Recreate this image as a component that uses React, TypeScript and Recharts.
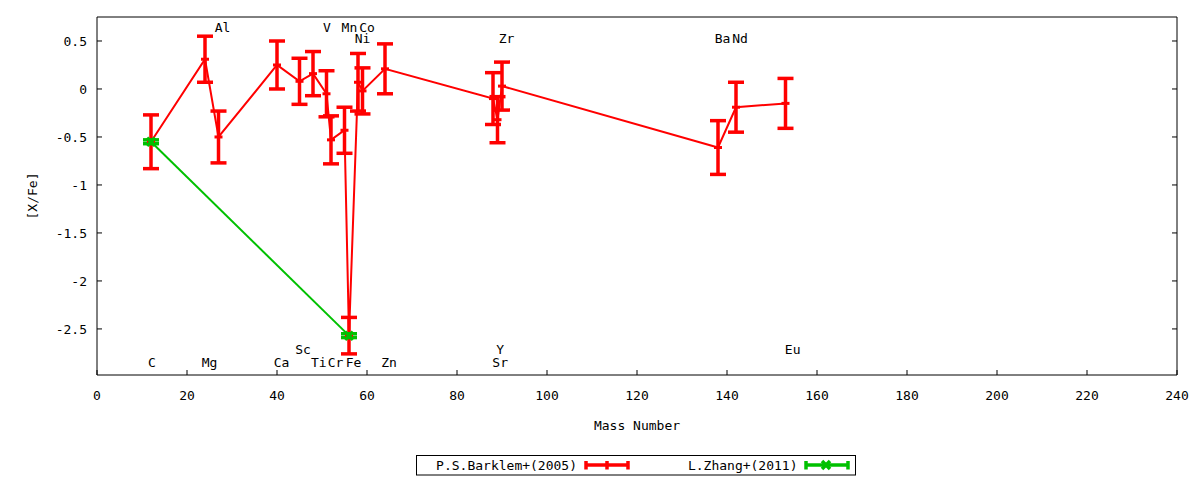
import React from 'react';
import { ComposedChart, Line, Scatter, XAxis, YAxis, ErrorBar } from 'recharts';

// P.S.Barklem+(2005)
const barklemElements = ['C', 'Mg', 'Al', 'Ca', 'Sc', 'Ti', 'V', 'Cr', 'Mn', 'Fe', 'Ni', 'Co', 'Zn', 'Sr', 'Y', 'Zr', 'Ba', 'Nd', 'Eu'];
const barklemMass = [12, 24, 27, 40, 45, 48, 51, 52, 55, 56, 58, 59, 64, 88, 89, 90, 138, 142, 153];
const barklemValues = [-0.55, 0.31, -0.5, 0.25, 0.08, 0.16, -0.05, -0.53, -0.43, -2.57, 0.07, -0.02, 0.21, -0.1, -0.32, 0.03, -0.61, -0.19, -0.15];
const barklemErrors = [0.28, 0.24, 0.27, 0.25, 0.24, 0.23, 0.24, 0.25, 0.24, 0.19, 0.3, 0.24, 0.26, 0.27, 0.24, 0.25, 0.28, 0.26, 0.26];

// L.Zhang+(2011)
const zhangMass = [12, 56];
const zhangValues = [-0.55, -2.57];
const zhangErrors = [0.02, 0.02];

// element annotations (data coordinates)
const labelNames = ['Al', 'V', 'Mn', 'Co', 'Ni', 'Zr', 'Ba', 'Nd', 'C', 'Mg', 'Ca', 'Ti', 'Cr', 'Fe', 'Zn', 'Sr', 'Sc', 'Y', 'Eu'];
const labelX = [27.9, 51.1, 56.1, 60.0, 59.0, 91.0, 139.0, 142.9, 12.2, 25.0, 41.0, 49.3, 53.0, 57.0, 64.9, 89.6, 45.8, 89.6, 154.6];
const labelY = [0.64, 0.64, 0.64, 0.64, 0.533, 0.533, 0.533, 0.533, -2.85, -2.85, -2.85, -2.85, -2.85, -2.85, -2.85, -2.85, -2.708, -2.708, -2.708];

const xTicks = [0, 20, 40, 60, 80, 100, 120, 140, 160, 180, 200, 220, 240];
const yTicks = [0.5, 0, -0.5, -1, -1.5, -2, -2.5];
const xDomain = [0, 240];
const yDomain = [-2.98, 0.75];

const RED = '#ff0000';
const GREEN = '#00c000';
const FONT = "'DejaVu Sans Mono', monospace";

const barklemData = barklemMass.map((m, i) => ({ x: m, y: barklemValues[i], err: barklemErrors[i], name: barklemElements[i] }));
const zhangData = zhangMass.map((m, i) => ({ x: m, y: zhangValues[i], err: zhangErrors[i] }));
const labelData = labelNames.map((n, i) => ({ x: labelX[i], y: labelY[i], name: n }));

const PLOT_LEFT = 97;
const PLOT_RIGHT = 1177;
const PLOT_TOP = 17;
const PLOT_BOTTOM = 375;

const XTick = (props: any) => (
  <text x={props.x} y={PLOT_BOTTOM + 20} dy="0.36em" textAnchor="middle" fontFamily={FONT} fontSize={13} fill="#000">
    {String(props.payload.value)}
  </text>
);
const YTick = (props: any) => (
  <text x={PLOT_LEFT - 10} y={props.y} dy="0.36em" textAnchor="end" fontFamily={FONT} fontSize={13} fill="#000">
    {String(props.payload.value)}
  </text>
);
const NoTick = () => <g />;

const redDot = (p: any) => (
  <line key={`rd${p.index}`} x1={p.cx - 4} x2={p.cx + 4} y1={p.cy} y2={p.cy} stroke={RED} strokeWidth={3} />
);
const greenDot = (p: any) => (
  <g key={`gd${p.index}`}>
    <line x1={p.cx - 4} x2={p.cx + 4} y1={p.cy - 4} y2={p.cy + 4} stroke={GREEN} strokeWidth={3.5} />
    <line x1={p.cx - 4} x2={p.cx + 4} y1={p.cy + 4} y2={p.cy - 4} stroke={GREEN} strokeWidth={3.5} />
  </g>
);
const labelShape = (p: any) => (
  <text x={p.cx} y={p.cy} dy="0.36em" textAnchor="middle" fontFamily={FONT} fontSize={13} fill="#000">
    {p.payload.name}
  </text>
);

export default function App() {
  return (
    <div style={{ position: 'absolute', left: 0, top: 0, width: 1200, height: 480, background: '#fff' }}>
      <ComposedChart
        width={1200}
        height={480}
        margin={{ top: PLOT_TOP, right: 1200 - PLOT_RIGHT, bottom: 480 - PLOT_BOTTOM, left: PLOT_LEFT }}
      >
        <XAxis
          xAxisId={0}
          dataKey="x"
          type="number"
          domain={xDomain}
          ticks={xTicks}
          allowDataOverflow
          mirror
          tickSize={5}
          stroke="#000"
          tick={XTick}
          interval={0}
        />
        <XAxis
          xAxisId="top"
          orientation="top"
          type="number"
          domain={xDomain}
          ticks={xTicks}
          allowDataOverflow
          mirror
          tickSize={5}
          stroke="#000"
          tick={NoTick}
          interval={0}
        />
        <YAxis
          yAxisId={0}
          dataKey="y"
          type="number"
          domain={yDomain}
          ticks={yTicks}
          allowDataOverflow
          mirror
          tickSize={5}
          stroke="#000"
          tick={YTick}
          interval={0}
        />
        <YAxis
          yAxisId="right"
          orientation="right"
          type="number"
          domain={yDomain}
          ticks={yTicks}
          allowDataOverflow
          mirror
          tickSize={5}
          stroke="#000"
          tick={NoTick}
          interval={0}
        />
        <Line
          data={barklemData}
          dataKey="y"
          stroke={RED}
          strokeWidth={2}
          dot={redDot}
          activeDot={false}
          isAnimationActive={false}
          legendType="none"
        >
          <ErrorBar dataKey="err" direction="y" width={8} stroke={RED} strokeWidth={3.5} isAnimationActive={false} />
        </Line>
        <Line
          data={zhangData}
          dataKey="y"
          stroke={GREEN}
          strokeWidth={2}
          dot={greenDot}
          activeDot={false}
          isAnimationActive={false}
          legendType="none"
        >
          <ErrorBar dataKey="err" direction="y" width={8} stroke={GREEN} strokeWidth={3.5} isAnimationActive={false} />
        </Line>
        <Scatter data={labelData} dataKey="y" shape={labelShape} isAnimationActive={false} legendType="none" />
      </ComposedChart>
      <svg
        width={1200}
        height={480}
        style={{ position: 'absolute', left: 0, top: 0, pointerEvents: 'none' }}
        fontFamily={FONT}
        fontSize={13}
      >
        <text x={637} y={425} dy="0.36em" textAnchor="middle" fill="#000">Mass Number</text>
        <text x={32} y={196} dy="0.36em" textAnchor="middle" fill="#000" transform="rotate(-90 32 196)">[X/Fe]</text>
        <rect x={416.5} y={455.5} width={439} height={19.5} fill="none" stroke="#000" strokeWidth={1} />
        <text x={577} y={465} dy="0.36em" textAnchor="end" fill="#000">P.S.Barklem+(2005)</text>
        <line x1={586} x2={628} y1={465} y2={465} stroke={RED} strokeWidth={3.5} />
        <line x1={586} x2={586} y1={461} y2={469.5} stroke={RED} strokeWidth={3.5} />
        <line x1={628} x2={628} y1={461} y2={469.5} stroke={RED} strokeWidth={3.5} />
        <line x1={607} x2={607} y1={461} y2={469.5} stroke={RED} strokeWidth={3.5} />
        <text x={797.5} y={465} dy="0.36em" textAnchor="end" fill="#000">L.Zhang+(2011)</text>
        <line x1={806} x2={848} y1={465} y2={465} stroke={GREEN} strokeWidth={3.5} />
        <line x1={806} x2={806} y1={461} y2={469.5} stroke={GREEN} strokeWidth={3.5} />
        <line x1={848} x2={848} y1={461} y2={469.5} stroke={GREEN} strokeWidth={3.5} />
        <line x1={822} x2={830} y1={461} y2={469} stroke={GREEN} strokeWidth={3.5} />
        <line x1={822} x2={830} y1={469} y2={461} stroke={GREEN} strokeWidth={3.5} />
      </svg>
    </div>
  );
}
